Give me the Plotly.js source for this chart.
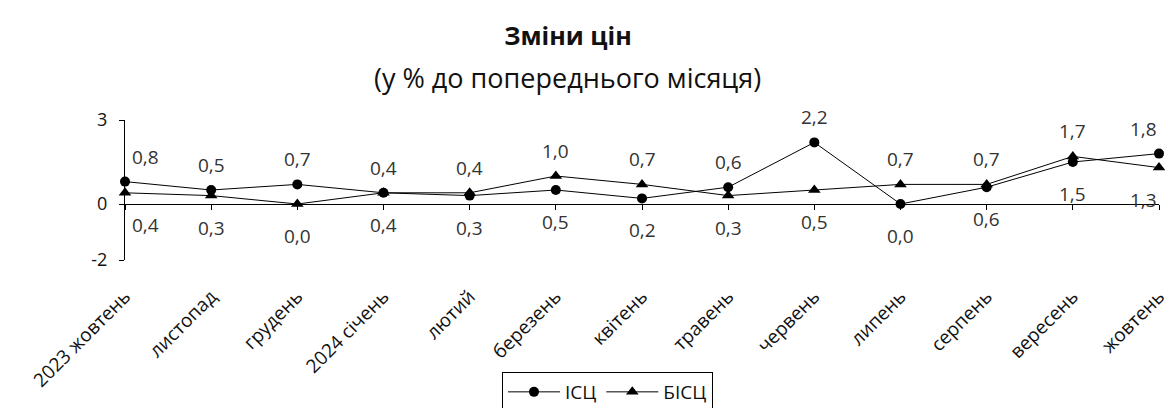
<!DOCTYPE html>
<html>
<head>
<meta charset="utf-8">
<script src="https://cdn.plot.ly/plotly-3.0.1.min.js"></script>
<style>html,body{margin:0;padding:0;background:#fff;}#chart{width:1172px;height:408px;}</style>
</head>
<body>
<div id="chart"></div>
<script>
const months = ['2023 жовтень','листопад','грудень','2024 січень','лютий','березень','квітень','травень','червень','липень','серпень','вересень','жовтень'];
const cpi = [0.8,0.5,0.7,0.4,0.3,0.5,0.2,0.6,2.2,0.0,0.6,1.5,1.8];
const coreCpi = [0.4,0.3,0.0,0.4,0.4,1.0,0.7,0.3,0.5,0.7,0.7,1.7,1.3];
const yTickVals = [-2,0,3];
const yTickLabels = ['-2','0','3'];
const seriesNames = ['ІСЦ','БІСЦ'];

const FONT = 'Open Sans, Noto Sans, sans-serif';
const fmt = v => v.toFixed(1).replace('.', ',');

const traces = [
  {x: months, y: cpi, name: seriesNames[0], type: 'scatter', mode: 'lines+markers',
   line: {color: '#000', width: 1}, marker: {symbol: 'circle', size: 10, color: '#000'}, cliponaxis: false},
  {x: months, y: coreCpi, name: seriesNames[1], type: 'scatter', mode: 'lines+markers',
   line: {color: '#000', width: 1}, marker: {symbol: 'triangle-up', size: 11, color: '#000'}, cliponaxis: false}
];

const annotations = [];
months.forEach((m, i) => {
  const a = cpi[i], b = coreCpi[i];
  const aTop = a >= b;
  let xs = 0;
  if (i === 0) xs = 20;
  if (i === months.length - 1) xs = -16;
  annotations.push({x: m, y: a, xref: 'x', yref: 'y', text: fmt(a), showarrow: false,
    yshift: aTop ? 25 : -32, xshift: xs, font: {family: FONT, size: 19, color: '#333'}});
  annotations.push({x: m, y: b, xref: 'x', yref: 'y', text: fmt(b), showarrow: false,
    yshift: aTop ? -32 : 25, xshift: xs, font: {family: FONT, size: 19, color: '#333'}});
});
annotations.push({xref: 'paper', yref: 'paper', x: 0.4284, y: 1.307, xanchor: 'center', yanchor: 'middle',
  text: '(у % до попереднього місяця)', showarrow: false, font: {family: FONT, size: 27, color: '#111'}});

const layout = {
  width: 1172, height: 408,
  margin: {l: 125, r: 13, t: 120, b: 148, autoexpand: false},
  paper_bgcolor: '#fff', plot_bgcolor: '#fff',
  font: {family: FONT, color: '#111'},
  title: {text: '<b>Зміни цін</b>', font: {family: FONT, size: 25, color: '#111'},
    x: 568/1172, xref: 'container', xanchor: 'center', y: 1 - 36/408, yref: 'container', yanchor: 'middle'},
  showlegend: true,
  legend: {orientation: 'h', x: 0.3646, y: -0.8, xanchor: 'left', yanchor: 'top', itemwidth: 52,
    bordercolor: '#000', borderwidth: 1, font: {family: FONT, size: 19, color: '#111'}},
  xaxis: {type: 'category', range: [0, months.length - 1], anchor: 'free', position: 0.4,
    showline: true, linecolor: '#000', linewidth: 1, ticks: 'outside', ticklen: 5, tickcolor: '#000',
    showgrid: false, zeroline: false, tickangle: -45, ticklabelstandoff: 68,
    tickfont: {family: FONT, size: 19, color: '#111'}},
  yaxis: {range: [-2, 3], showline: true, linecolor: '#000', linewidth: 1, ticks: 'outside', ticklen: 5,
    tickcolor: '#000', tickvals: yTickVals, ticktext: yTickLabels, showgrid: false, zeroline: false,
    ticklabelstandoff: 8, tickfont: {family: FONT, size: 18, color: '#111'}},
  annotations: annotations
};

Plotly.newPlot('chart', traces, layout, {displayModeBar: false, responsive: false});
</script>
</body>
</html>
